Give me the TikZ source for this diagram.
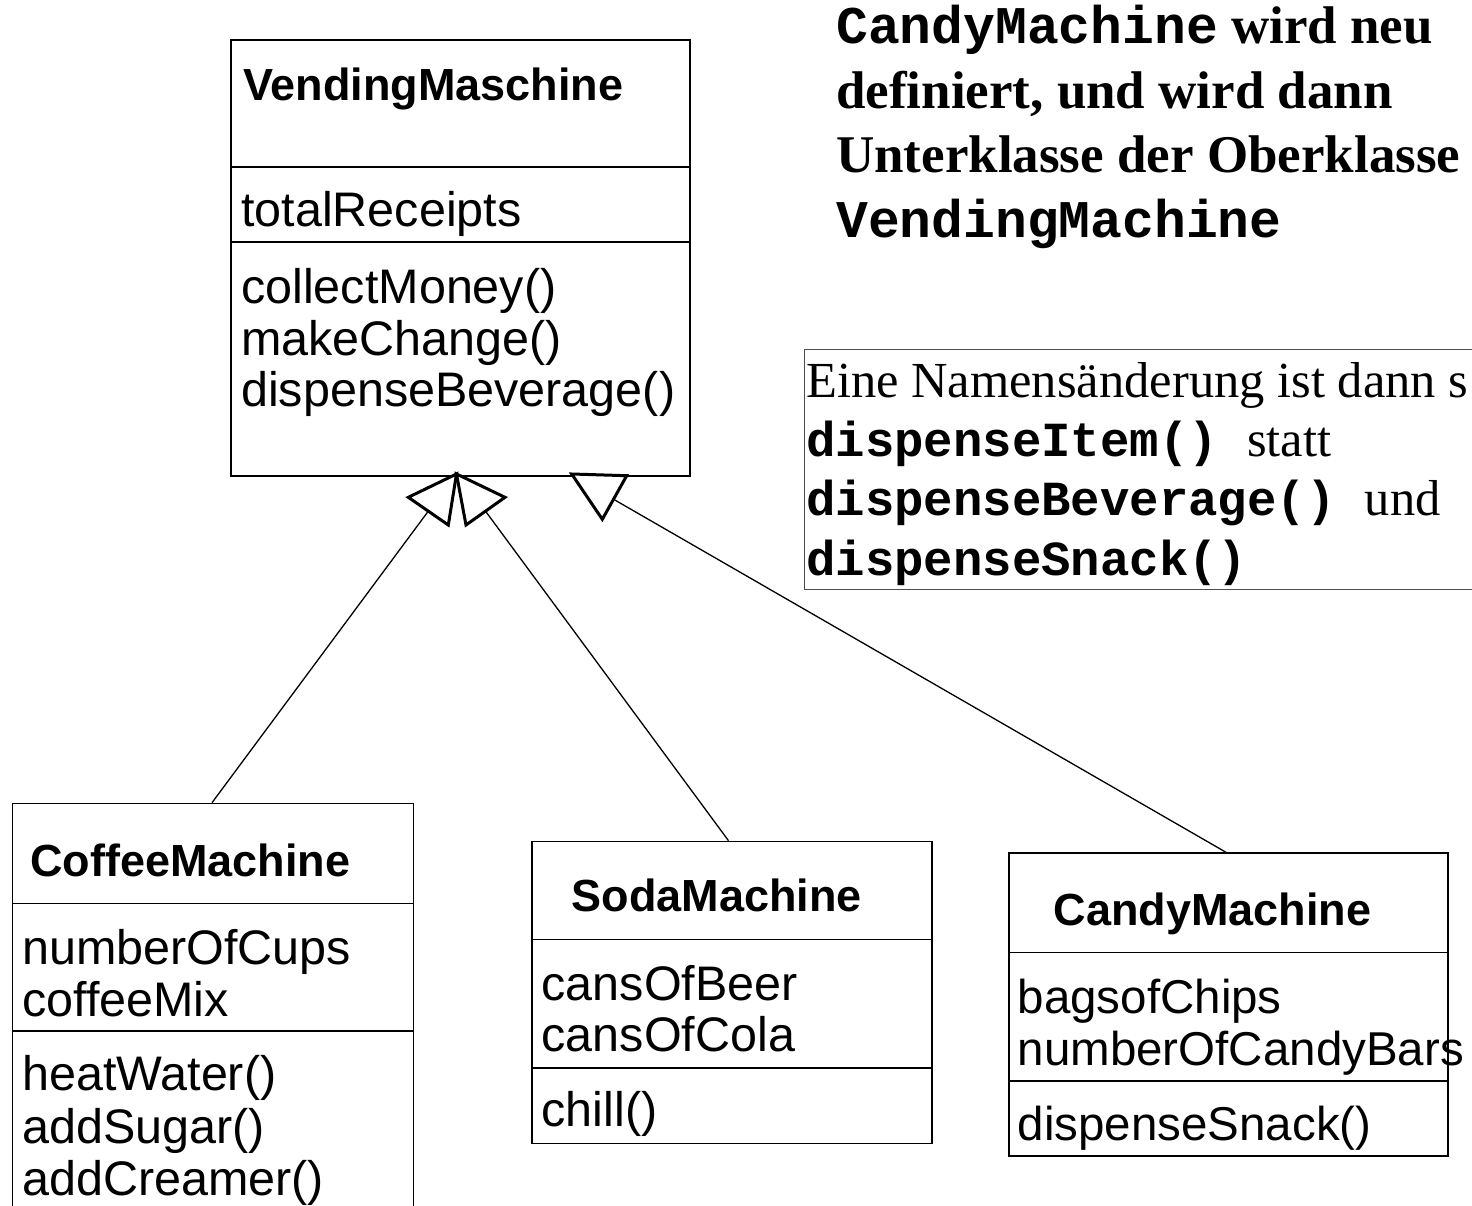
\documentclass[tikz,border=0pt]{standalone}
\usepackage{fontspec}
\setmainfont{Liberation Serif}
\setsansfont{Liberation Sans}
\setmonofont{Liberation Mono}
\usetikzlibrary{calc}

\tikzset{
  umlbox/.style={draw, line width=1.6pt, anchor=north west, inner sep=0pt, fill=white},
  divider/.style={line width=1.6pt},
  cname/.style={font=\sffamily\bfseries\fontsize{45}{48}\selectfont, anchor=base west, inner sep=0pt},
  member/.style={font=\sffamily\fontsize{48.5}{52}\selectfont, anchor=base west, inner sep=0pt},
  link/.style={line width=1.3pt},
  gentip/.style={line width=3pt, line join=miter, fill=white},
  headline/.style={font=\rmfamily\bfseries\fontsize{53}{64}\selectfont, anchor=base west, inner sep=0pt},
  noteline/.style={font=\rmfamily\fontsize{50.5}{59}\selectfont, anchor=base west, inner sep=0pt},
  notebox/.style={draw=black!70, line width=1.2pt, anchor=north west, inner sep=0pt},
}
\newcommand{\codefont}{\ttfamily\bfseries\fontsize{49}{59}\selectfont}

\begin{document}
\begin{tikzpicture}[x=1pt, y=-1pt]
\useasboundingbox (0,0) rectangle (1472,1206);
\fill[white] (0,0) rectangle (1472,1206);
\clip (0,0) rectangle (1472,1206);

% ---- superclass
\node[umlbox, minimum width=459pt, minimum height=435.7pt] (vm) at (230,39.3) {};
\draw[divider] (vm.west |- 0,167.3) -- (vm.east |- 0,167.3);
\draw[divider] (vm.west |- 0,242) -- (vm.east |- 0,242);
\node[cname] (vmname) at (243,100.7) {VendingMaschine};
\node[member] (vmattr) at (241,226.7) {totalReceipts};
\node[member] (vmop1) at (241,303) {collectMoney()};
\node[member] (vmop2) at (241,355) {makeChange()};
\node[member] (vmop3) at (241,406.7) {dispenseBeverage()};

% ---- CoffeeMachine (runs past the lower edge)
\node[umlbox, minimum width=401pt, minimum height=430pt] (coffee) at (11.7,802.7) {};
\draw[divider] (coffee.west |- 0,903.3) -- (coffee.east |- 0,903.3);
\draw[divider] (coffee.west |- 0,1030.7) -- (coffee.east |- 0,1030.7);
\node[cname] (cfname) at (30,876.7) {CoffeeMachine};
\node[member] (cfattr1) at (22,964) {numberOfCups};
\node[member] (cfattr2) at (22,1016) {coffeeMix};
\node[member] (cfop1) at (22,1090.7) {heatWater()};
\node[member] (cfop2) at (22,1143) {addSugar()};
\node[member] (cfop3) at (22,1195) {addCreamer()};

% ---- SodaMachine
\node[umlbox, minimum width=400pt, minimum height=302pt] (soda) at (531,840.7) {};
\draw[divider] (soda.west |- 0,939.3) -- (soda.east |- 0,939.3);
\draw[divider] (soda.west |- 0,1067.7) -- (soda.east |- 0,1067.7);
\node[cname] (sdname) at (571.7,911.7) {SodaMachine};
\node[member] (sdattr1) at (541.5,1000) {cansOfBeer};
\node[member] (sdattr2) at (541.5,1051.7) {cansOfCola};
\node[member] (sdop1) at (541.5,1126.7) {chill()};

% ---- CandyMachine
\node[umlbox, minimum width=439pt, minimum height=302.7pt] (candy) at (1008.3,852.3) {};
\draw[divider] (candy.west |- 0,952.3) -- (candy.east |- 0,952.3);
\draw[divider] (candy.west |- 0,1080.7) -- (candy.east |- 0,1080.7);
\node[cname] (cdname) at (1053.3,925) {CandyMachine};
\node[member, font=\sffamily\fontsize{47.5}{52}\selectfont] (cdattr1) at (1017.5,1013.3) {bagsofChips};
\node[member, font=\sffamily\fontsize{47.5}{52}\selectfont] (cdattr2) at (1017.5,1065) {numberOfCandyBars};
\node[member, font=\sffamily\fontsize{47.5}{52}\selectfont] (cdop1) at (1017.5,1140) {dispenseSnack()};

% ---- generalization heads
\coordinate (apex) at (456.5,474);
\coordinate (l1) at (408.3,497.3);
\coordinate (l2) at (448.3,525);
\coordinate (r1) at (505,497.3);
\coordinate (r2) at (466,525);
\coordinate (t1) at (571.7,474);
\coordinate (t2) at (626.7,475.7);
\coordinate (t3) at (602.3,519.3);
\coordinate (lbase) at ($(l1)!0.5!(l2)$);
\coordinate (rbase) at ($(r1)!0.5!(r2)$);
\coordinate (tside) at ($(t2)!0.54!(t3)$);

% ---- inheritance links
\draw[link] (coffee.north -| 212,0) -- (lbase);
\draw[link] (soda.north -| 728.5,0) -- (rbase);
\draw[link] (candy.north -| 1226,0) -- (tside);

\draw[gentip] (apex) -- (l1) -- (l2) -- cycle;
\draw[gentip] (apex) -- (r1) -- (r2) -- cycle;
\draw[gentip] (t1) -- (t2) -- (t3) -- cycle;

% ---- headline remark
\node[headline] (h1) at (836,44) {{\ttfamily CandyMachine} wird neu};
\node[headline] (h2) at (836,108.5) {definiert, und wird dann};
\node[headline] (h3) at (836,173) {Unterklasse der Oberklasse};
\node[headline] (h4) at (836,237.5) {\ttfamily VendingMachine};

% ---- note on renaming
\node[notebox, minimum width=700pt, minimum height=240pt] (note) at (804,349) {};
\node[noteline] (n1) at (806,397.5) {Eine Namensänderung ist dann s};
\node[noteline] (n2) at (806,456.5) {{\codefont dispenseItem() }statt};
\node[noteline] (n3) at (806,515.5) {{\codefont dispenseBeverage() }und};
\node[noteline] (n4) at (806,575) {{\codefont dispenseSnack()}};
\end{tikzpicture}
\end{document}
